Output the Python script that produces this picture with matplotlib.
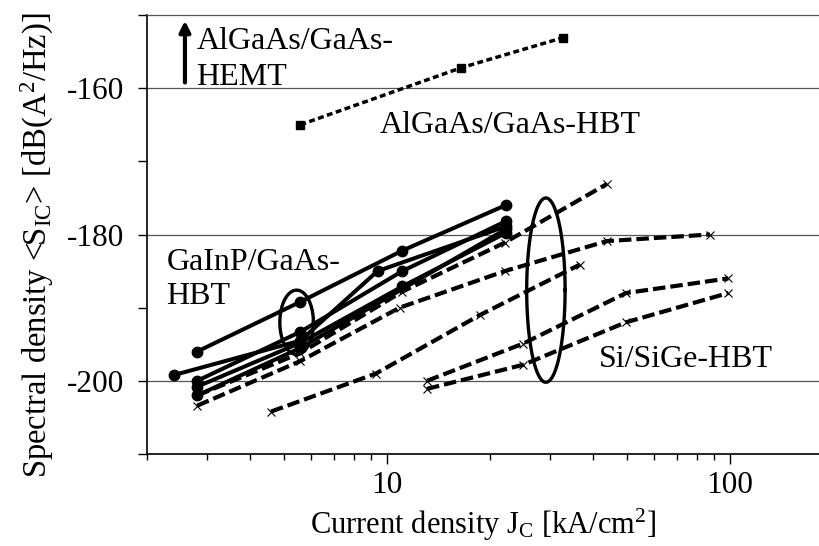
"""Spectral noise density vs. current density for several HBT/HEMT technologies."""

import matplotlib

matplotlib.use("Agg")
import matplotlib.pyplot as plt
import numpy as np

plt.rcParams["font.family"] = ["Liberation Serif", "DejaVu Serif"]
plt.rcParams["mathtext.fontset"] = "custom"
plt.rcParams["mathtext.rm"] = "Liberation Serif"
plt.rcParams["mathtext.it"] = "Liberation Serif:italic"

INK = "#000000"
GRID = "#555555"

# -- data
algaas_hbt_x = [5.6, 16.5, 32.6]
algaas_hbt_y = [-165.0, -157.2, -153.1]

gainp_x = [
    [2.8, 5.6, 11.1, 22.2],
    [2.4, 5.6, 9.4, 22.2],
    [2.8, 5.6, 11.1, 22.2],
    [2.8, 5.6, 11.1, 22.2],
    [2.8, 5.6, 22.2],
]
gainp_y = [
    [-196.0, -189.2, -182.2, -176.0],
    [-199.2, -194.5, -185.0, -178.9],
    [-200.0, -193.3, -185.0, -178.2],
    [-200.8, -194.8, -187.1, -179.8],
    [-202.0, -195.5, -179.3],
]

sige_x = [
    [2.8, 5.6, 10.9, 22.1, 43.8, 87.6],
    [2.8, 5.6, 11.1, 22.1, 43.8],
    [4.6, 9.3, 18.7, 36.6],
    [13.1, 25.0, 49.8, 99.0],
    [13.1, 25.0, 49.8, 99.0],
]
sige_y = [
    [-203.4, -197.3, -190.0, -185.0, -180.9, -180.0],
    [-202.0, -196.2, -187.8, -181.1, -173.1],
    [-204.2, -199.0, -191.0, -184.1],
    [-200.0, -194.9, -188.0, -186.0],
    [-201.1, -197.8, -192.0, -188.0],
]

# ellipses marking groups: (centre x, centre y, half-width in decades, half-height in dB)
ellipses = [(5.46, -192.0, 0.049, 4.4), (29.1, -187.6, 0.056, 12.6)]

fig = plt.figure(figsize=(8.19, 5.46), dpi=100)
ax = fig.add_axes([0.1795, 0.1685, 0.8205, 0.804])

for xs, ys in zip(sige_x, sige_y):
    ax.plot(xs, ys, color=INK, linewidth=3.0, dashes=(3.0, 1.2),
            marker="x", markersize=6, markeredgewidth=0.8)

for xs, ys in zip(gainp_x, gainp_y):
    ax.plot(xs, ys, color=INK, linewidth=2.9, marker="o", markersize=7.5)

ax.plot(algaas_hbt_x, algaas_hbt_y, color=INK, linewidth=2.5, dashes=(1.7, 1.0),
        marker="s", markersize=5.5)

t = np.linspace(0, 2 * np.pi, 200)
for xc, yc, a, b in ellipses:
    ax.plot(10 ** (np.log10(xc) + a * np.cos(t)), yc + b * np.sin(t),
            color=INK, linewidth=2.4)

# annotations
fs = 23
ax.annotate("", xy=(2.58, -150.4), xytext=(2.58, -159.6),
            arrowprops=dict(arrowstyle="-|>", color=INK, lw=3.0, mutation_scale=16))
ax.text(2.79, -154.7, "AlGaAs/GaAs-", fontsize=fs, va="baseline")
ax.text(2.79, -159.5, "HEMT", fontsize=fs, va="baseline")
ax.text(9.55, -166.1, "AlGaAs/GaAs-HBT", fontsize=fs, va="baseline")
ax.text(2.28, -184.8, "GaInP/GaAs-", fontsize=fs, va="baseline")
ax.text(2.28, -189.5, "HBT", fontsize=fs, va="baseline")
ax.text(41.4, -198.1, "Si/SiGe-HBT", fontsize=fs, va="baseline")

# axes
ax.set_xscale("log")
ax.set_xlim(2, 182)
ax.set_ylim(-210, -150)
ax.set_xticks([10, 100])
ax.set_xticklabels(["10", "100"])
ax.set_yticks([-200, -180, -160])
ax.set_yticklabels(["-200", "-180", "-160"])
ax.set_yticks(np.arange(-210, -149, 10), minor=True)
ax.tick_params(axis="both", which="major", labelsize=22.5, direction="out", color=INK)
ax.tick_params(axis="x", which="major", length=7, width=1.0, pad=5)
ax.tick_params(axis="x", which="minor", length=4, width=1.0)
ax.tick_params(axis="y", which="both", length=6.5, width=1.0, pad=10)
ax.yaxis.grid(True, which="major", color=GRID, linewidth=0.9)
ax.set_axisbelow(True)

ax.spines["right"].set_visible(False)
ax.spines["top"].set_color(GRID)
ax.spines["top"].set_linewidth(0.9)
for side in ("left", "bottom"):
    ax.spines[side].set_color(INK)
    ax.spines[side].set_linewidth(1.2)

ax.set_xlabel(r"Current density J$_\mathrm{C}$ [kA/cm$^2$]", fontsize=22, labelpad=5)
ax.set_ylabel(r"Spectral density <S$_\mathrm{IC}$> [dB(A$^2$/Hz)]", fontsize=23.5)
ax.yaxis.set_label_coords(-0.135, 0.476)

fig.savefig("out.png", dpi=100)
plt.close(fig)
